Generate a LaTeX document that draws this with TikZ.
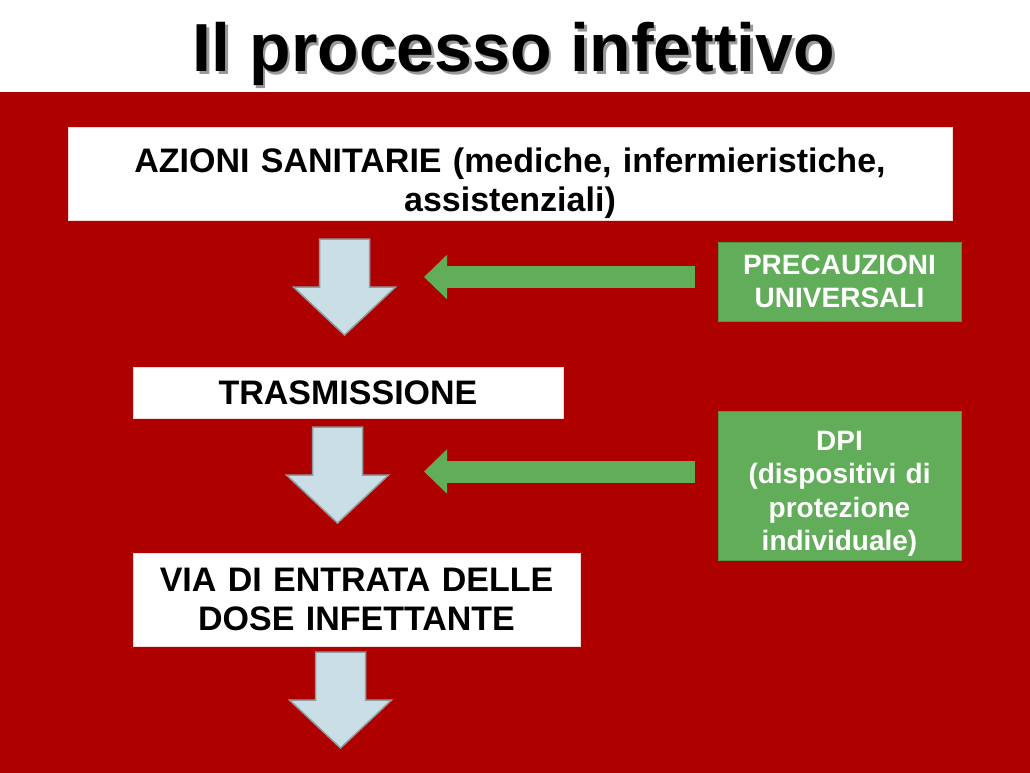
\documentclass[tikz,border=0pt]{standalone}
\usepackage{fontspec}
\setmainfont{Liberation Sans}
\usepackage{tikz}
\usetikzlibrary{positioning, arrows.meta}

\definecolor{slidered}{HTML}{AF0000}
\definecolor{boxgreen}{HTML}{62AD5A}
\definecolor{arrowblue}{HTML}{C9DFE5}
\definecolor{arrowgray}{HTML}{8F9CA3}

\newcommand{\shadowtext}[1]{\rlap{\kern2.5pt\raisebox{-2.5pt}{\textcolor{black!40}{#1}}}#1}

\begin{document}
\begin{tikzpicture}[x=1pt, y=-1pt, node distance=204pt, on grid]
        \tikzset{
            whitebox/.style={fill=white, draw=white!85!slidered, line width=0.8pt, align=center,
                font=\fontsize{34}{39}\selectfont\bfseries, inner sep=0pt},
            greenbox/.style={fill=boxgreen, draw=boxgreen!85!black, line width=0.8pt, align=center,
                text=white, font=\fontsize{28}{33.5}\selectfont\bfseries, inner sep=0pt,
                minimum width=243pt, text width=230pt},
            bluearrow/.style={fill=arrowblue, draw=arrowgray, line width=1.5pt, line join=miter},
            greenarrow/.style={draw=boxgreen, line width=22pt, -{Triangle[length=23pt, width=43pt]}}
        }
        \useasboundingbox (0,0) rectangle (1030,773);
        \fill[slidered] (0,92) rectangle (1030,773);

        % Titolo
        \node[anchor=base, font=\fontsize{68}{80}\selectfont\bfseries] (title) at (514,72)
            {\shadowtext{Il processo infettivo}};

        % Riquadri
        \node[whitebox, minimum width=884pt, minimum height=93pt, text width=870pt] (azioni) at (510,173.5)
            {\rule{0pt}{45pt}AZIONI SANITARIE (mediche, infermieristiche,\\ assistenziali)};
        \node[whitebox, minimum width=430pt, minimum height=51pt] (tras) at (348,392.5) {TRASMISSIONE};
        \node[whitebox, minimum width=447pt, minimum height=93pt, text width=440pt] (via) at (356.5,599.5)
            {VIA DI ENTRATA DELLE\\ DOSE INFETTANTE};
        \node[greenbox, minimum height=79pt] (prec) at (839.5,281.5) {PRECAUZIONI\\ UNIVERSALI};
        \node[greenbox, minimum height=149pt] (dpi) [below=of prec]
            {\rule{0pt}{36pt}DPI\\ (dispositivi di\\ protezione\\ individuale)};

        % Frecce
        \foreach \x/\y in {344.5/239, 337.5/427, 340.5/652}
            \draw[bluearrow] (\x-25,\y) -- ++(50,0) -- ++(0,48) -- ++(26,0) -- (\x,\y+96)
                -- (\x-51,\y+48) -- ++(26,0) -- cycle;

        \coordinate (g1s) at (695,277);
        \coordinate (g1e) at (424,277);
        \coordinate (g2s) at (695,471.5);
        \coordinate (g2e) at (424,471.5);
        \draw[greenarrow] (g1s) -- (g1e);
        \draw[greenarrow] (g2s) -- (g2e);
    \end{tikzpicture}
\end{document}
